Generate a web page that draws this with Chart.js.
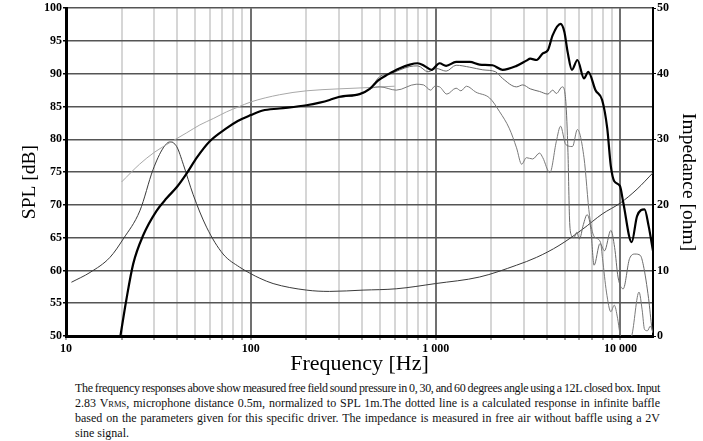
<!DOCTYPE html>
<html>
<head>
<meta charset="utf-8">
<script src="https://cdn.jsdelivr.net/npm/chart.js@4"></script>
<style>
  html, body { margin: 0; padding: 0; background: #fff; }
  #wrap { position: absolute; left: 0; top: 0; width: 703px; height: 380px; }
  #caption {
    position: absolute; left: 75px; top: 381px; width: 585px;
    font-family: "Liberation Serif", serif; font-size: 12px; line-height: 14.7px; color: #111;
  }
  #caption div { white-space: nowrap; text-align: justify; text-align-last: justify; }
  #caption div.tight { letter-spacing: -0.35px; word-spacing: -1.5px; }
  #caption div.last { text-align-last: left; }
  .sc { font-size: 8.5px; }
</style>
</head>
<body>
<div id="wrap"><canvas id="graphCanvas" width="703" height="380"></canvas></div>
<div id="caption">
  <div class="tight">The frequency responses above show measured free field sound pressure in 0, 30, and 60 degrees angle using a 12L closed box. Input</div>
  <div>2.83 V<span class="sc">RMS</span>, microphone distance 0.5m, normalized to SPL 1m.The dotted line is a calculated response in infinite baffle</div>
  <div>based on the parameters given for this specific driver. The impedance is measured in free air without baffle using a 2V</div>
  <div class="last">sine signal.</div>
</div>
<script>
// frequency ticks (grid lines) and the labelled decades
const xTickValues = [10, 20, 30, 40, 50, 60, 70, 80, 90,
  100, 200, 300, 400, 500, 600, 700, 800, 900,
  1000, 2000, 3000, 4000, 5000, 6000, 7000, 8000, 9000, 10000];
const xTickLabels = { 10: "10", 100: "100", 1000: "1 000", 10000: "10 000" };

// 0 degrees (on axis)
const onAxisHz = [19.7, 21.2, 23.1, 26.2, 30.9, 35, 40, 45, 51, 60, 74, 85, 100, 116, 143, 200, 236, 267, 302,
  388, 440, 489, 552, 636, 725, 800, 870, 950, 1050, 1140, 1290, 1530, 1730, 2030, 2300, 2740, 3100, 3250,
  3520, 3800, 4050, 4300, 4740, 4970, 5180, 5460, 5850, 6350, 6700, 7330, 7960, 8480, 8870, 9260, 9930,
  10350, 11500, 12300, 13500, 14200, 15000];
const onAxisDb = [50, 55.5, 61.0, 65.4, 69.1, 71.0, 72.8, 74.8, 77.2, 79.7, 81.7, 82.8, 83.7, 84.4, 84.7, 85.2, 85.6, 86.0, 86.5,
  86.9, 87.7, 89.0, 89.9, 90.8, 91.4, 91.6, 91.2, 90.6, 91.6, 91.2, 91.8, 91.8, 91.4, 91.3, 90.6, 91.2, 92.0, 92.3,
  92.1, 93.1, 93.6, 95.9, 97.6, 96.4, 93.3, 90.6, 92.1, 89.3, 90.3, 87.5, 86.0, 81.7, 75.9, 73.6, 72.9,
  70.4, 64.3, 68.3, 69.3, 66.8, 63.0];

// 30 degrees
const deg30Hz = [300, 400, 440, 500, 565, 725, 800, 910, 1010, 1140, 1290, 1530, 1800, 2110, 2300, 2740, 2960,
  3250, 3650, 4050, 4300, 4500, 4850, 5060, 5200, 5300, 5400, 5600, 5800, 6000, 6300, 6600, 6900, 7200,
  7750, 8200, 8870, 9300, 9700, 10350, 11200, 12000, 12800, 13300, 14200, 14800, 15000];
const deg30Db = [86.4, 87.0, 87.7, 89.6, 90.0, 91.1, 91.2, 90.3, 90.8, 90.4, 91.3, 91.0, 90.6, 90.3, 89.3, 88.0, 88.3,
  87.7, 87.3, 86.9, 87.5, 87.0, 88.0, 85.8, 78.0, 68.0, 65.5, 65.0, 65.8, 64.8, 67.0, 68.5, 66.5, 60.8,
  64.1, 63.0, 66.1, 63.5, 59.0, 57.2, 61.8, 62.5, 62.3, 60.8, 55.7, 51.2, 50.5];

// 60 degrees
const deg60Hz = [300, 400, 450, 500, 612, 785, 860, 940, 990, 1050, 1150, 1290, 1370, 1470, 1650, 1960, 2220,
  2500, 2740, 2920, 3100, 3350, 3650, 3800, 4150, 4500, 4740, 5060, 5500, 5850, 6350, 6800, 7200, 7800,
  8000, 8400, 8870, 9260, 9650, 9930, 10300, 11500, 12600, 13100, 13500, 14000, 14500, 15000];
const deg60Db = [86.4, 87.0, 87.8, 88.0, 87.5, 88.4, 88.3, 87.5, 88.1, 88.0, 86.9, 87.8, 87.4, 88.1, 87.2, 86.3, 84.2,
  81.7, 78.7, 76.2, 77.2, 77.0, 77.9, 77.2, 74.9, 79.7, 82.0, 79.2, 78.9, 81.5, 77.2, 68.4, 65.2, 64.3,
  61.8, 56.7, 53.7, 54.7, 52.7, 50.4, 48.5, 50.0, 56.7, 54.0, 51.0, 50.8, 51.5, 50.5];

// calculated infinite baffle response
const baffleHz = [20, 25, 30, 36.5, 45, 53, 63, 74, 85, 100, 143, 200, 302, 440, 500, 600];
const baffleDb = [73.5, 76.2, 78.0, 79.5, 81.0, 82.2, 83.2, 84.2, 84.9, 85.7, 86.8, 87.4, 87.7, 87.9, 88.0, 88.1];

// impedance (right axis)
const impHz = [10.7, 13.5, 17.3, 20.4, 25.1, 29.6, 33.6, 36.5, 39.7, 43.1, 48.7, 57.6, 70.8, 87, 100, 112, 132,
  200, 267, 405, 612, 1000, 1730, 2740, 3520, 4650, 6250, 7960, 10000, 12300, 15000];
const impOhm = [8.2, 9.7, 12.0, 14.8, 19.1, 25.4, 28.7, 29.6, 28.9, 26.2, 21.6, 16.6, 12.5, 10.5, 9.5, 8.8, 8.0,
  7.0, 6.8, 7.0, 7.2, 8.0, 9.0, 10.8, 12.0, 13.8, 16.3, 18.6, 20.3, 22.4, 24.9];

const pairs = (xs, ys) => xs.map((x, i) => ({ x, y: ys[i] }));

const tickFont = { family: "Liberation Serif", size: 12, weight: "bold" };

// side titles, placed a bit below the plot centre like the original
const sideTitles = {
  id: "sideTitles",
  afterDraw(chart) {
    const c = chart.ctx;
    const mid = (chart.chartArea.top + chart.chartArea.bottom) / 2 + 10;
    c.save();
    c.font = '19.5px "Liberation Serif"';
    c.fillStyle = "#000";
    c.textAlign = "center";
    c.textBaseline = "middle";
    c.translate(30, mid);
    c.rotate(-Math.PI / 2);
    c.fillText("SPL [dB]", 0, 0);
    c.restore();
    c.save();
    c.font = '19.5px "Liberation Serif"';
    c.fillStyle = "#000";
    c.textAlign = "center";
    c.textBaseline = "middle";
    c.translate(688, mid);
    c.rotate(Math.PI / 2);
    c.fillText("Impedance [ohm]", 0, 0);
    c.restore();
  }
};

const line = (data, color, width, axis) => ({
  data, borderColor: color, borderWidth: width, pointRadius: 0,
  cubicInterpolationMode: "monotone", yAxisID: axis || "y", fill: false
});

new Chart(document.getElementById("graphCanvas").getContext("2d"), {
  type: "line",
  data: {
    datasets: [
      line(pairs(onAxisHz, onAxisDb), "#000", 2.2),
      line(pairs(deg30Hz, deg30Db), "#6a6a6a", 1),
      line(pairs(deg60Hz, deg60Db), "#7a7a7a", 1),
      line(pairs(baffleHz, baffleDb), "#a8a8a8", 1),
      line(pairs(impHz, impOhm), "#3a3a3a", 1, "imp")
    ]
  },
  plugins: [sideTitles],
  options: {
    responsive: false,
    animation: false,
    layout: { padding: { top: 6, left: 0, right: 0, bottom: 0 } },
    plugins: { legend: { display: false }, tooltip: { enabled: false } },
    scales: {
      x: {
        type: "logarithmic",
        min: 10,
        max: 15000,
        afterBuildTicks: s => { s.ticks = xTickValues.map(v => ({ value: v })); },
        afterFit: s => { s.height = 44; },
        ticks: {
          autoSkip: false, maxRotation: 0, padding: 2, color: "#000", font: tickFont,
          callback: v => xTickLabels[v] || ""
        },
        grid: {
          color: c => (xTickLabels[c.tick && c.tick.value] ? "#707070" : "#d6d6d6"),
          lineWidth: 2,
          tickLength: 4,
          tickColor: "#444",
          tickWidth: 1
        },
        border: { color: "#000", width: 3 },
        title: {
          display: true, text: "Frequency [Hz]", color: "#000",
          font: { family: "Liberation Serif", size: 22 }, padding: { top: 0, bottom: 3 }
        }
      },
      y: {
        position: "left",
        min: 50,
        max: 100,
        afterFit: s => { s.width = 66; },
        ticks: { stepSize: 5, color: "#000", font: tickFont, padding: 1 },
        grid: { color: "#555", lineWidth: 1.6, tickLength: 3, tickColor: "#000" },
        border: { color: "#000", width: 3 }
      },
      imp: {
        position: "right",
        min: 0,
        max: 50,
        afterFit: s => { s.width = 50; },
        ticks: { stepSize: 10, color: "#000", font: tickFont, padding: 1 },
        grid: { drawOnChartArea: false, tickLength: 3, color: "#000" },
        border: { color: "#000", width: 2 }
      }
    }
  }
});
</script>
</body>
</html>
